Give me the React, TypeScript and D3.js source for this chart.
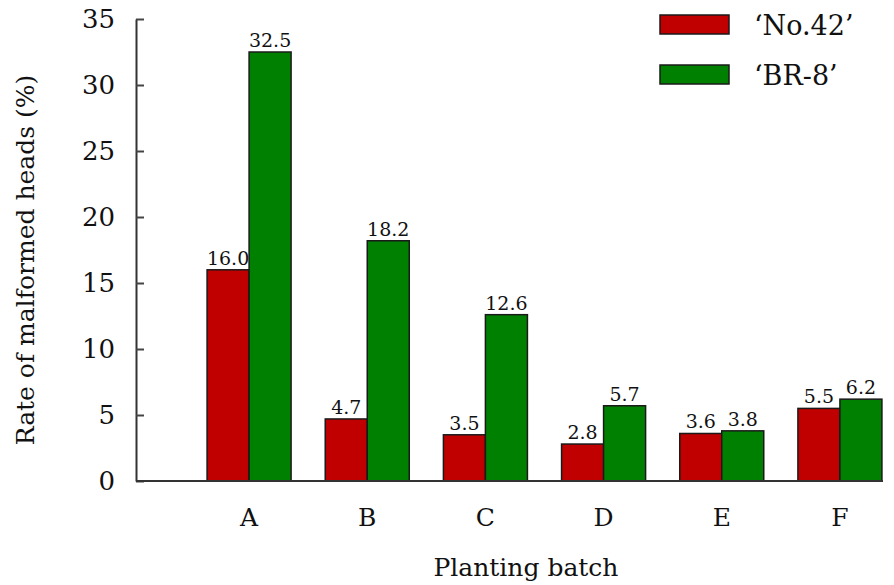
import { FC, useEffect, useRef } from "react";
import * as d3 from "d3";

const batches = ["A", "B", "C", "D", "E", "F"];
const seriesNames = ["\u2018No.42\u2019", "\u2018BR-8\u2019"];
const seriesColors = ["#c00000", "#008000"];
const no42 = [16.0, 4.7, 3.5, 2.8, 3.6, 5.5];
const br8 = [32.5, 18.2, 12.6, 5.7, 3.8, 6.2];
const yTicks = [0, 5, 10, 15, 20, 25, 30, 35];

const FONT = "'DejaVu Serif', serif";

const App: FC = () => {
    const ref = useRef<SVGSVGElement>(null);

    useEffect(() => {
        document.body.style.margin = "0";
        const svg = d3.select(ref.current);
        svg.selectAll("*").remove();

        var width = 894, height = 585;
        var axisLeft = 136, axisRight = 883, top = 19, bottom = 481;

        var x = d3.scaleBand()
            .domain(batches)
            .range([190, 899])
            .paddingInner(0.289)
            .paddingOuter(0.1445);
        var xs = d3.scaleBand()
            .domain(["0", "1"])
            .range([0, x.bandwidth()]);
        var y = d3.scaleLinear()
            .domain([0, 35])
            .range([bottom, top]);

        svg.attr("width", width).attr("height", height)
            .style("font-family", FONT);

        // y axis
        const gy = svg.append("g")
            .attr("transform", "translate(" + axisLeft + ",0)")
            .call(d3.axisLeft(y).tickValues(yTicks).tickSize(-8).tickSizeOuter(0).tickPadding(21));
        gy.attr("font-family", null);
        gy.select(".domain").attr("stroke", "#333").attr("stroke-width", 2);
        gy.selectAll(".tick line").attr("stroke", "#444").attr("stroke-width", 2);
        gy.selectAll(".tick text")
            .attr("font-size", 26)
            .style("font-family", FONT)
            .attr("fill", "#111");

        // bars
        const data = batches.map((b, i) => ({ batch: b, values: [no42[i], br8[i]] }));
        const groups = svg.selectAll(".grp")
            .data(data)
            .enter()
            .append("g")
            .attr("transform", d => "translate(" + x(d.batch) + ",0)");
        groups.selectAll("rect")
            .data(d => d.values)
            .enter()
            .append("rect")
            .attr("x", (d, i) => xs(String(i))!)
            .attr("y", d => y(d))
            .attr("width", xs.bandwidth())
            .attr("height", d => bottom - y(d))
            .attr("fill", (d, i) => seriesColors[i])
            .attr("stroke", "#1a1a1a")
            .attr("stroke-width", 1.5);
        groups.selectAll(".val")
            .data(d => d.values)
            .enter()
            .append("text")
            .attr("x", (d, i) => xs(String(i))! + xs.bandwidth() / 2)
            .attr("y", d => y(d) - 5)
            .attr("text-anchor", "middle")
            .style("font-family", FONT)
            .attr("font-size", 19)
            .attr("fill", "#111")
            .text(d => d.toFixed(1));

        // x axis line
        svg.append("line")
            .attr("x1", axisLeft).attr("x2", axisRight)
            .attr("y1", bottom).attr("y2", bottom)
            .attr("stroke", "#333").attr("stroke-width", 2);

        // category labels
        svg.selectAll(".cat")
            .data(batches)
            .enter()
            .append("text")
            .attr("x", d => x(d)! + x.bandwidth() / 2)
            .attr("y", 526)
            .attr("text-anchor", "middle")
            .style("font-family", FONT)
            .attr("font-size", 25)
            .attr("fill", "#111")
            .text(d => d);

        // axis titles
        svg.append("text")
            .attr("x", 526).attr("y", 576)
            .attr("text-anchor", "middle")
            .style("font-family", FONT)
            .attr("font-size", 25)
            .attr("fill", "#111")
            .text("Planting batch");
        svg.append("text")
            .attr("transform", "translate(34,260) rotate(-90)")
            .attr("text-anchor", "middle")
            .style("font-family", FONT)
            .attr("font-size", 25)
            .attr("fill", "#111")
            .text("Rate of malformed heads (%)");

        // legend
        const legend = svg.selectAll(".leg")
            .data(seriesNames)
            .enter()
            .append("g")
            .attr("transform", (d, i) => "translate(660," + (15 + i * 50) + ")");
        legend.append("rect")
            .attr("width", 69).attr("height", 19)
            .attr("fill", (d, i) => seriesColors[i])
            .attr("stroke", "#1a1a1a").attr("stroke-width", 1.5);
        legend.append("text")
            .attr("x", 94).attr("y", 20)
            .style("font-family", FONT)
            .attr("font-size", 27)
            .attr("fill", "#111")
            .text(d => d);
    }, []);

    return (<svg ref={ref} style={{ display: "block" }}></svg>);
};

export default App;
